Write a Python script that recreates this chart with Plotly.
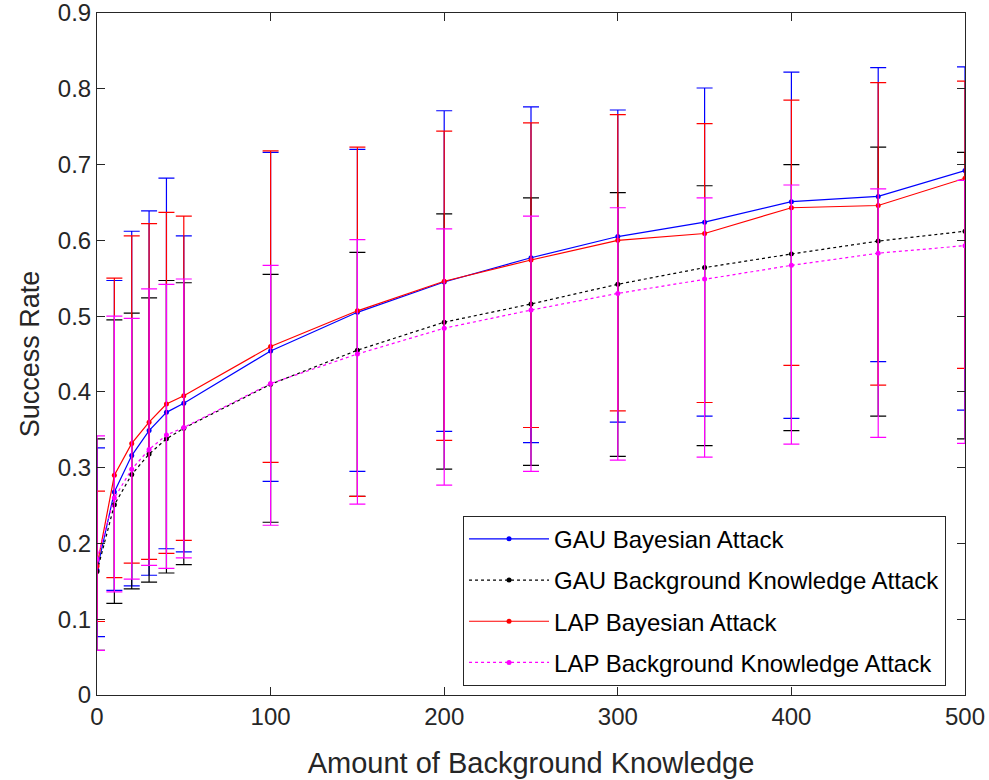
import plotly.graph_objects as go

x_vals = [0, 10, 20, 30, 40, 50, 100, 150, 200, 250, 300, 350, 400, 450, 500]

gau_bayes_mean = [0.165, 0.268, 0.316, 0.349, 0.373, 0.385, 0.454, 0.505, 0.545, 0.577, 0.605, 0.624, 0.651, 0.658, 0.692]
gau_bayes_upper = [0.326, 0.547, 0.612, 0.639, 0.682, 0.606, 0.716, 0.720, 0.771, 0.776, 0.772, 0.801, 0.822, 0.828, 0.829]
gau_bayes_lower = [0.077, 0.138, 0.144, 0.158, 0.193, 0.189, 0.282, 0.295, 0.348, 0.333, 0.360, 0.368, 0.365, 0.440, 0.376]

gau_bk_mean = [0.163, 0.251, 0.291, 0.318, 0.338, 0.352, 0.410, 0.455, 0.492, 0.516, 0.542, 0.564, 0.582, 0.599, 0.612]
gau_bk_upper = [0.338, 0.495, 0.504, 0.524, 0.547, 0.544, 0.555, 0.584, 0.635, 0.656, 0.663, 0.672, 0.700, 0.723, 0.716]
gau_bk_lower = [0.059, 0.121, 0.140, 0.149, 0.161, 0.172, 0.228, 0.262, 0.298, 0.303, 0.315, 0.329, 0.349, 0.368, 0.338]

lap_bayes_mean = [0.170, 0.290, 0.332, 0.360, 0.384, 0.395, 0.460, 0.507, 0.546, 0.574, 0.600, 0.609, 0.643, 0.646, 0.682]
lap_bayes_upper = [0.269, 0.550, 0.606, 0.622, 0.637, 0.632, 0.718, 0.723, 0.744, 0.755, 0.766, 0.754, 0.785, 0.808, 0.810]
lap_bayes_lower = [0.097, 0.155, 0.174, 0.179, 0.187, 0.204, 0.307, 0.262, 0.336, 0.353, 0.375, 0.386, 0.435, 0.409, 0.431]

lap_bk_mean = [0.179, 0.260, 0.298, 0.324, 0.343, 0.353, 0.411, 0.450, 0.484, 0.508, 0.530, 0.549, 0.567, 0.583, 0.593]
lap_bk_upper = [0.342, 0.500, 0.497, 0.536, 0.542, 0.549, 0.567, 0.601, 0.615, 0.632, 0.643, 0.656, 0.673, 0.668, 0.679]
lap_bk_lower = [0.059, 0.136, 0.153, 0.171, 0.167, 0.181, 0.224, 0.252, 0.277, 0.295, 0.310, 0.314, 0.331, 0.340, 0.332]

y_ticks = [0, 0.1, 0.2, 0.3, 0.4, 0.5, 0.6, 0.7, 0.8, 0.9]
y_tick_text = ["0", "0.1", "0.2", "0.3", "0.4", "0.5", "0.6", "0.7", "0.8", "0.9"]
x_ticks = [0, 100, 200, 300, 400, 500]

series = [
    ("GAU Bayesian Attack", gau_bayes_mean, gau_bayes_upper, gau_bayes_lower, "#0000FF", "solid"),
    ("GAU Background Knowledge Attack", gau_bk_mean, gau_bk_upper, gau_bk_lower, "#000000", "dot"),
    ("LAP Bayesian Attack", lap_bayes_mean, lap_bayes_upper, lap_bayes_lower, "#FF0000", "solid"),
    ("LAP Background Knowledge Attack", lap_bk_mean, lap_bk_upper, lap_bk_lower, "#FF00FF", "dot"),
]

FONT = "Liberation Sans, Arial, sans-serif"

fig = go.Figure()
for i, (name, m, up, lo, col, dash) in enumerate(series):
    fig.add_trace(go.Scatter(
        x=x_vals, y=m, name=name, mode="lines+markers",
        legendgroup=f"g{i}",
        line=dict(color=col, width=1.2, dash=dash),
        marker=dict(color=col, size=5, symbol="circle"),
        error_y=dict(type="data", symmetric=False,
                     array=[u - v for u, v in zip(up, m)],
                     arrayminus=[v - l for v, l in zip(m, lo)],
                     color=col, thickness=1.2, width=8),
    ))

fig.update_layout(
    width=989, height=780,
    margin=dict(l=97, r=24, t=13, b=85),
    paper_bgcolor="white", plot_bgcolor="white",
    font=dict(family=FONT, color="#262626"),
    showlegend=True,
    legend=dict(
        x=0.4217, y=0.2628, xanchor="left", yanchor="top",
        bordercolor="#262626", borderwidth=1, bgcolor="white",
        font=dict(family=FONT, size=24, color="#000000"),
        itemwidth=80, tracegroupgap=7,
    ),
    xaxis=dict(
        range=[0, 500], tickvals=x_ticks, automargin=False,
        showline=True, linecolor="#262626", linewidth=1, mirror="ticks",
        ticks="inside", ticklen=8, tickcolor="#262626",
        showgrid=False, zeroline=False, ticklabeloverflow="allow",
        tickfont=dict(size=24, family=FONT, color="#262626"),
        title=dict(text="Amount of Background Knowledge", font=dict(size=29, family=FONT, color="#262626"), standoff=23),
    ),
    yaxis=dict(
        range=[0, 0.9], tickvals=y_ticks, ticktext=y_tick_text, automargin=False,
        showline=True, linecolor="#262626", linewidth=1, mirror="ticks",
        ticks="inside", ticklen=8, tickcolor="#262626",
        showgrid=False, zeroline=False, ticklabeloverflow="allow",
        tickfont=dict(size=24, family=FONT, color="#262626"),
        title=dict(text="Success Rate", font=dict(size=27, family=FONT, color="#262626"), standoff=10),
    ),
)

fig.write_html("out.html")
